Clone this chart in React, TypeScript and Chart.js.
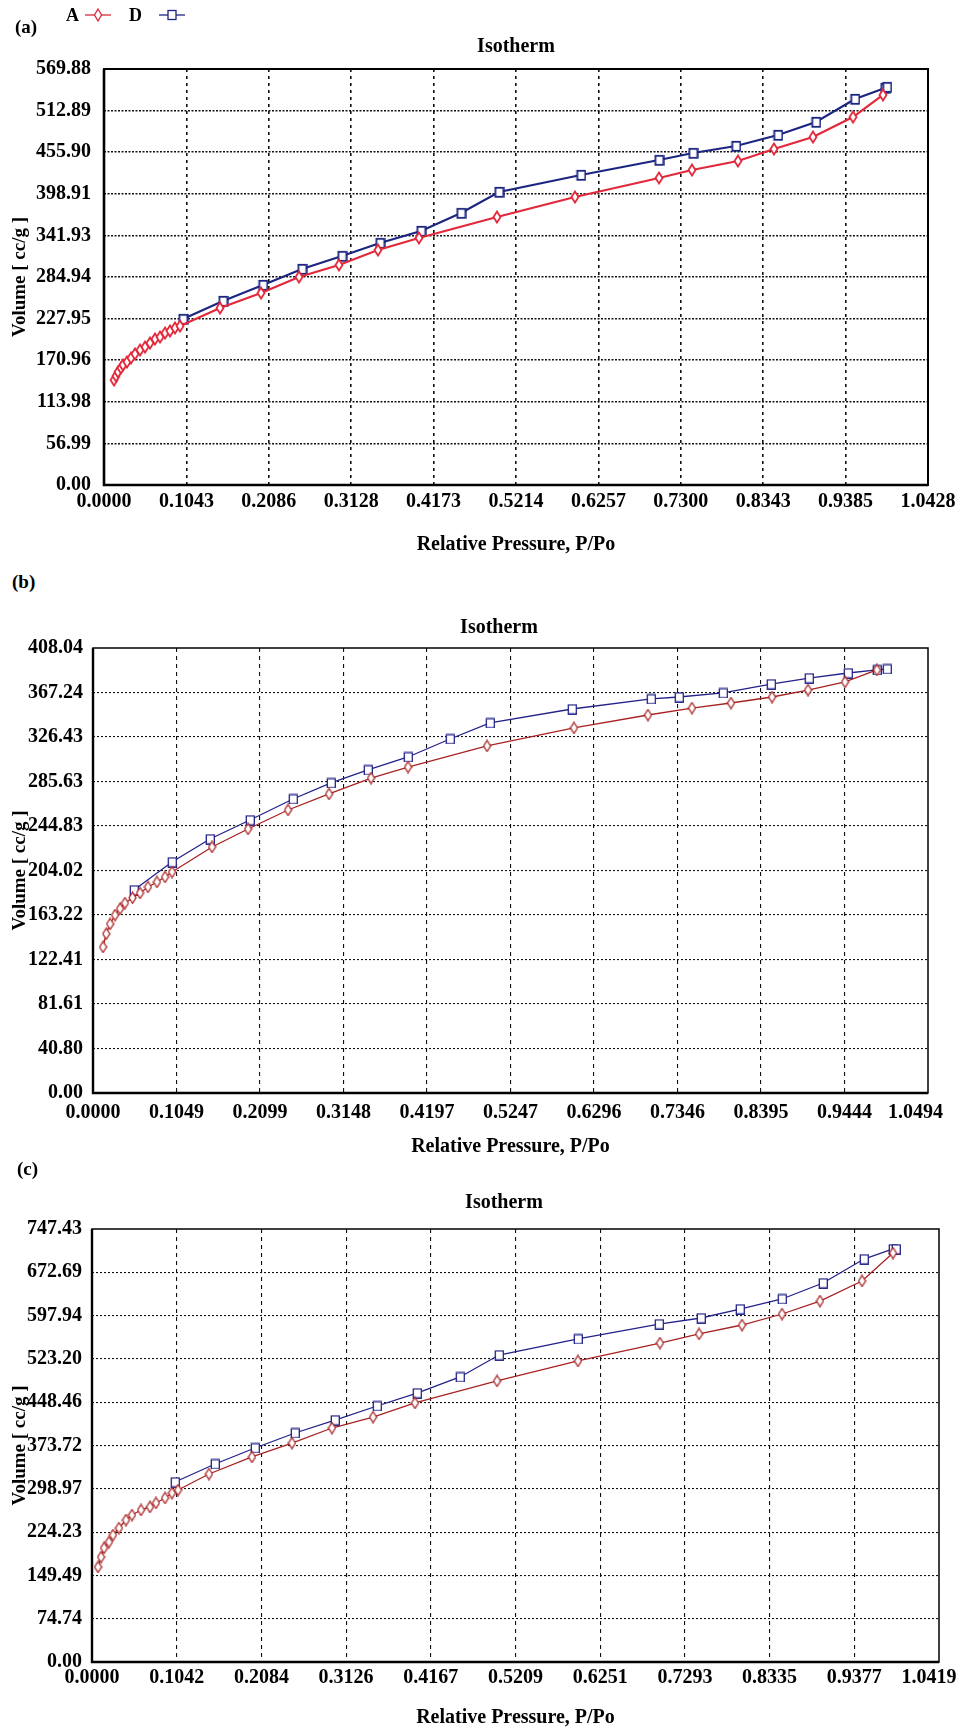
import React, { useEffect, useRef } from "react";
import { Chart, registerables } from "chart.js";

Chart.register(...registerables);

const FONT = "'Liberation Serif', 'Times New Roman', serif";

// ---------- Panel (a) ----------
const aXLabels = ["0.0000", "0.1043", "0.2086", "0.3128", "0.4173", "0.5214", "0.6257", "0.7300", "0.8343", "0.9385", "1.0428"];
const aYLabels = ["0.00", "56.99", "113.98", "170.96", "227.95", "284.94", "341.93", "398.91", "455.90", "512.89", "569.88"];
const aAdsP = [0.0127, 0.0152, 0.0177, 0.0215, 0.024, 0.0291, 0.0342, 0.0392, 0.0456, 0.0519, 0.0582, 0.0645, 0.0709, 0.0772, 0.0835, 0.0898, 0.0962, 0.1468, 0.1987, 0.2468, 0.2974, 0.3467, 0.3986, 0.4973, 0.596, 0.7024, 0.7441, 0.8023, 0.8479, 0.8972, 0.9479, 0.9858];
const aAdsV = [143.8, 149.3, 154.8, 160.3, 164.4, 168.5, 174.0, 179.5, 184.9, 189.0, 194.5, 200.0, 202.7, 208.2, 211.0, 215.1, 217.8, 242.5, 263.0, 284.9, 301.4, 321.9, 338.4, 367.1, 394.5, 420.6, 431.5, 443.8, 460.3, 476.7, 504.1, 534.3];
const aDesP = [0.1, 0.1506, 0.2012, 0.2506, 0.3012, 0.3493, 0.4012, 0.4518, 0.4999, 0.6036, 0.7024, 0.7454, 0.7998, 0.8529, 0.901, 0.9504, 0.9884, 0.9909];
const aDesV = [227.4, 252.1, 274.0, 295.9, 313.7, 331.5, 348.0, 372.6, 401.4, 424.7, 445.2, 454.8, 464.4, 479.5, 497.3, 528.8, 543.9, 545.2];

// ---------- Panel (b) ----------
const bXLabels = ["0.0000", "0.1049", "0.2099", "0.3148", "0.4197", "0.5247", "0.6296", "0.7346", "0.8395", "0.9444", "1.0494"];
const bYLabels = ["0.00", "40.80", "81.61", "122.41", "163.22", "204.02", "244.83", "285.63", "326.43", "367.24", "408.04"];
const bAdsP = [0.0126, 0.0166, 0.0215, 0.0277, 0.034, 0.0402, 0.0497, 0.0591, 0.0691, 0.0804, 0.0905, 0.0993, 0.1496, 0.1948, 0.2451, 0.2966, 0.3494, 0.3959, 0.4952, 0.6045, 0.6975, 0.7528, 0.8018, 0.8534, 0.8986, 0.9451, 0.9853];
const bAdsV = [133.9, 146.0, 155.0, 163.2, 169.0, 174.2, 179.0, 183.4, 188.9, 193.5, 198.1, 202.6, 225.6, 242.1, 259.5, 274.2, 288.8, 298.9, 318.2, 334.7, 346.6, 353.0, 357.6, 363.1, 369.5, 376.9, 387.9];
const bDesP = [0.0515, 0.0993, 0.147, 0.1973, 0.2514, 0.2991, 0.3456, 0.3959, 0.4487, 0.499, 0.602, 0.7013, 0.7365, 0.7918, 0.8521, 0.8999, 0.9489, 0.9853, 0.9979];
const bDesV = [186.1, 211.8, 232.9, 250.3, 269.6, 284.3, 296.2, 308.1, 324.6, 339.3, 352.1, 361.3, 363.1, 366.8, 375.0, 380.5, 385.1, 387.9, 388.8];

// ---------- Panel (c) ----------
const cXLabels = ["0.0000", "0.1042", "0.2084", "0.3126", "0.4167", "0.5209", "0.6251", "0.7293", "0.8335", "0.9377", "1.0419"];
const cYLabels = ["0.00", "74.74", "149.49", "224.23", "298.97", "373.72", "448.46", "523.20", "597.94", "672.69", "747.43"];
const cAdsP = [0.0074, 0.0111, 0.0148, 0.0209, 0.0258, 0.0332, 0.0418, 0.0492, 0.0603, 0.0713, 0.0787, 0.0898, 0.0984, 0.1058, 0.1439, 0.1968, 0.246, 0.2952, 0.3457, 0.3973, 0.4982, 0.5978, 0.6987, 0.7467, 0.7996, 0.8488, 0.8955, 0.9472, 0.9853];
const cAdsV = [164.0, 181.2, 196.8, 207.1, 219.2, 231.3, 245.1, 253.7, 262.4, 267.6, 274.5, 283.1, 291.7, 296.9, 324.5, 353.9, 378.0, 403.9, 422.9, 447.1, 485.1, 519.6, 550.6, 566.2, 581.7, 600.7, 623.1, 657.7, 706.0];
const cDesP = [0.1021, 0.1513, 0.2005, 0.2497, 0.2989, 0.3506, 0.3998, 0.4527, 0.5007, 0.5978, 0.6975, 0.7491, 0.7971, 0.8488, 0.8992, 0.9496, 0.9853, 0.989];
const cDesV = [310.7, 341.8, 369.4, 395.3, 417.7, 441.9, 464.3, 492.0, 529.9, 557.6, 583.4, 593.8, 609.3, 626.6, 654.2, 695.6, 712.9, 712.9];

type PanelCfg = {
  top: number;
  height: number;
  padTop: number;
  padRight: number;
  yWidth: number;
  xHeight: number;
  xLabels: string[];
  yLabels: string[];
  adsP: number[];
  adsV: number[];
  desP: number[];
  desV: number[];
  red: string;
  blue: string;
  lineWidth: number;
  gridWidth: number;
  yTickPad: number;
  xTickPad: number;
  xTitlePad: number;
  frameThin: number;
  frameThick: number;
  xDash: number[];
  yDash: number[];
  markerLw: number;
  lastPad: number;
};

function makeDiamond(w: number, h: number, color: string, lw: number) {
  const c = document.createElement("canvas");
  c.width = w + 2 * lw;
  c.height = h + 2 * lw;
  const g = c.getContext("2d")!;
  const cx = c.width / 2;
  const cy = c.height / 2;
  g.beginPath();
  g.moveTo(cx, cy - h / 2);
  g.lineTo(cx + w / 2, cy);
  g.lineTo(cx, cy + h / 2);
  g.lineTo(cx - w / 2, cy);
  g.closePath();
  g.fillStyle = "#ffffff";
  g.fill();
  g.lineWidth = lw;
  g.strokeStyle = color;
  g.stroke();
  return c;
}

function makeSquare(w: number, h: number, color: string, lw: number) {
  const c = document.createElement("canvas");
  c.width = w + 2 * lw;
  c.height = h + 2 * lw;
  const g = c.getContext("2d")!;
  g.fillStyle = "#ffffff";
  g.fillRect(lw, lw, w, h);
  g.lineWidth = lw;
  g.strokeStyle = color;
  g.strokeRect(lw, lw, w, h);
  return c;
}

const framePlugin = {
  id: "frame",
  afterDatasetsDraw(chart: any, _args: any, opts: any) {
    const { ctx, chartArea } = chart;
    const { left, top, right, bottom } = chartArea;
    ctx.save();
    ctx.strokeStyle = "#000";
    ctx.lineWidth = opts.thin;
    ctx.strokeRect(left, top, right - left, bottom - top);
    ctx.lineWidth = opts.thick;
    ctx.beginPath();
    ctx.moveTo(left, top);
    ctx.lineTo(left, bottom);
    ctx.lineTo(right, bottom);
    ctx.stroke();
    ctx.restore();
  },
};

function Panel({ cfg }: { cfg: PanelCfg }) {
  const ref = useRef<HTMLCanvasElement | null>(null);
  useEffect(() => {
    if (!ref.current) return;
    const xMax = parseFloat(cfg.xLabels[cfg.xLabels.length - 1]);
    const yMax = parseFloat(cfg.yLabels[cfg.yLabels.length - 1]);
    const nX = cfg.xLabels.length - 1;
    const nY = cfg.yLabels.length - 1;
    const diamond = makeDiamond(7, 11, cfg.red, cfg.markerLw);
    const square = makeSquare(8, 9, cfg.blue, cfg.markerLw);
    const chart = new Chart(ref.current, {
      type: "scatter",
      data: {
        datasets: [
          {
            label: "A",
            data: cfg.adsP.map((p, i) => ({ x: p, y: cfg.adsV[i] })),
            showLine: true,
            borderColor: cfg.red,
            borderWidth: cfg.lineWidth,
            pointStyle: diamond as any,
            pointRadius: 5,
          },
          {
            label: "D",
            data: cfg.desP.map((p, i) => ({ x: p, y: cfg.desV[i] })),
            showLine: true,
            borderColor: cfg.blue,
            borderWidth: cfg.lineWidth,
            pointStyle: square as any,
            pointRadius: 5,
          },
        ],
      },
      options: {
        animation: false,
        responsive: false,
        devicePixelRatio: 1,
        layout: { padding: { top: cfg.padTop, right: cfg.padRight, bottom: 0, left: 0 } },
        plugins: {
          legend: { display: false },
          tooltip: { enabled: false },
          frame: { thin: cfg.frameThin, thick: cfg.frameThick },
        } as any,
        scales: {
          x: {
            type: "linear",
            min: 0,
            max: xMax,
            afterBuildTicks: (scale: any) => {
              scale.ticks = cfg.xLabels.map((_, i) => ({ value: (xMax * i) / nX }));
            },
            afterFit: (scale: any) => {
              scale.height = cfg.xHeight;
              scale.paddingLeft = 0;
              scale.paddingRight = 0;
            },
            ticks: {
              autoSkip: false,
              maxRotation: 0,
              padding: cfg.xTickPad,
              color: "#000",
              font: { family: FONT, size: 20, weight: "bold" },
              callback: (_v: any, i: number) =>
                i === nX ? cfg.xLabels[i] + "\u00a0".repeat(cfg.lastPad) : cfg.xLabels[i],
            },
            grid: {
              drawTicks: false,
              lineWidth: cfg.gridWidth,
              color: (c: any) => (c.index === 0 || c.index === nX ? "rgba(0,0,0,0)" : "#111"),
            },
            border: { display: false, dash: cfg.xDash },
            title: {
              display: true,
              text: "Relative Pressure, P/Po",
              color: "#000",
              font: { family: FONT, size: 20, weight: "bold" },
              padding: { top: 0, bottom: cfg.xTitlePad },
            },
          },
          y: {
            type: "linear",
            min: 0,
            max: yMax,
            afterBuildTicks: (scale: any) => {
              scale.ticks = cfg.yLabels.map((_, i) => ({ value: (yMax * i) / nY }));
            },
            afterFit: (scale: any) => {
              scale.width = cfg.yWidth;
              scale.paddingTop = 0;
              scale.paddingBottom = 0;
            },
            ticks: {
              autoSkip: false,
              padding: cfg.yTickPad,
              color: "#000",
              font: { family: FONT, size: 20, weight: "bold" },
              callback: (_v: any, i: number) => cfg.yLabels[i],
            },
            grid: {
              drawTicks: false,
              lineWidth: cfg.gridWidth,
              color: (c: any) => (c.index === 0 || c.index === nY ? "rgba(0,0,0,0)" : "#111"),
            },
            border: { display: false, dash: cfg.yDash },
            title: {
              display: true,
              text: "Volume [ cc/g ]",
              color: "#000",
              font: { family: FONT, size: 19, weight: "bold" },
              padding: { top: 9, bottom: 0 },
            },
          },
        },
      } as any,
      plugins: [framePlugin as any],
    });
    return () => chart.destroy();
  }, [cfg]);
  return (
    <canvas
      ref={ref}
      width={961}
      height={cfg.height}
      style={{ position: "absolute", left: 0, top: cfg.top, width: 961, height: cfg.height }}
    />
  );
}

const panelA: PanelCfg = {
  top: 0, height: 560, padTop: 69, padRight: 33, yWidth: 104, xHeight: 75,
  xLabels: aXLabels, yLabels: aYLabels, adsP: aAdsP, adsV: aAdsV, desP: aDesP, desV: aDesV,
  red: "#e2283a", blue: "#1c2680", lineWidth: 2.2, gridWidth: 1.6,
  yTickPad: 13, xTickPad: 5, xTitlePad: 3, frameThin: 2, frameThick: 2.6,
  xDash: [3, 4], yDash: [2, 1.5], markerLw: 1.8, lastPad: 0,
};
const panelB: PanelCfg = {
  top: 600, height: 563, padTop: 48, padRight: 33, yWidth: 93, xHeight: 70,
  xLabels: bXLabels, yLabels: bYLabels, adsP: bAdsP, adsV: bAdsV, desP: bDesP, desV: bDesV,
  red: "#a82222", blue: "#22228a", lineWidth: 1.3, gridWidth: 1.1,
  yTickPad: 10, xTickPad: 8, xTitlePad: 4, frameThin: 1.5, frameThick: 2.4,
  xDash: [4, 4], yDash: [2, 2], markerLw: 1.3, lastPad: 5,
};
const panelC: PanelCfg = {
  top: 1170, height: 560, padTop: 59, padRight: 22, yWidth: 92, xHeight: 68,
  xLabels: cXLabels, yLabels: cYLabels, adsP: cAdsP, adsV: cAdsV, desP: cDesP, desV: cDesV,
  red: "#a82222", blue: "#22228a", lineWidth: 1.3, gridWidth: 1.1,
  yTickPad: 10, xTickPad: 4, xTitlePad: 0, frameThin: 1.5, frameThick: 2.4,
  xDash: [4, 4], yDash: [2, 2], markerLw: 1.3, lastPad: 4,
};

const txt = (left: number, cy: number, size: number, text: string, center = false) => (
  <div
    style={{
      position: "absolute",
      left: center ? left - 150 : left,
      width: center ? 300 : undefined,
      textAlign: center ? "center" : "left",
      top: cy - Math.round(size * 0.6),
      lineHeight: `${Math.round(size * 1.2)}px`,
      fontFamily: FONT,
      fontWeight: "bold",
      fontSize: size,
      color: "#000",
      whiteSpace: "nowrap",
    }}
  >
    {text}
  </div>
);

export default function App() {
  return (
    <div
      style={{
        position: "absolute",
        left: 0,
        top: 0,
        width: 961,
        height: 1730,
        overflow: "hidden",
        background: "#fff",
      }}
    >
      <Panel cfg={panelA} />
      <Panel cfg={panelB} />
      <Panel cfg={panelC} />
      {txt(15, 26, 19, "(a)")}
      {txt(12, 581, 19, "(b)")}
      {txt(17, 1168, 19, "(c)")}
      {txt(516, 45, 20, "Isotherm", true)}
      {txt(499, 626, 20, "Isotherm", true)}
      {txt(504, 1201, 20, "Isotherm", true)}
      {/* legend */}
      {txt(66, 15, 18, "A")}
      <svg style={{ position: "absolute", left: 84, top: 7 }} width={28} height={16}>
        <line x1={1} y1={8} x2={27} y2={8} stroke="#d8283a" strokeWidth={1.3} />
        <polygon points="14,2 17.5,8 14,14 10.5,8" fill="#fff" stroke="#d8283a" strokeWidth={1.3} />
      </svg>
      {txt(129, 15, 18, "D")}
      <svg style={{ position: "absolute", left: 158, top: 7 }} width={28} height={16}>
        <line x1={1} y1={8} x2={27} y2={8} stroke="#1c2680" strokeWidth={1.3} />
        <rect x={10} y={3.5} width={8} height={9} fill="#fff" stroke="#1c2680" strokeWidth={1.3} />
      </svg>
    </div>
  );
}
